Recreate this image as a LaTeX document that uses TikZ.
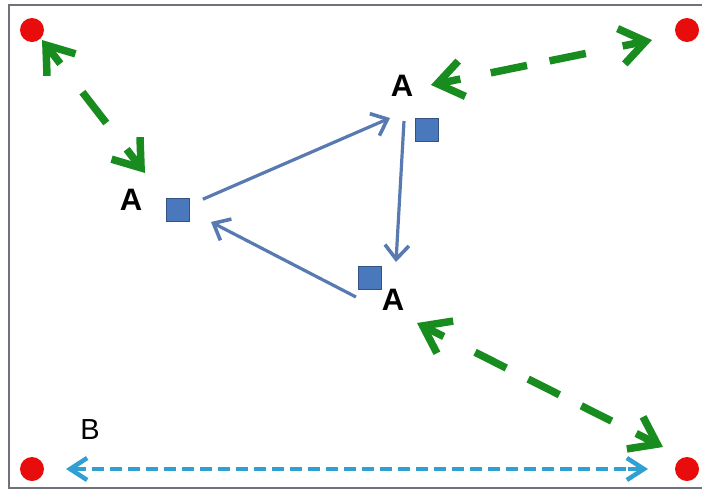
\documentclass[tikz,border=0pt]{standalone}
\usepackage{fontspec}
\setmainfont{Liberation Sans}
\usepackage{tikz}
\usetikzlibrary{arrows.meta, calc, positioning}
\usepackage{xcolor}

\definecolor{dotred}{RGB}{232,12,12}
\definecolor{sqblue}{RGB}{74,120,188}
\definecolor{sqedge}{RGB}{52,82,130}
\definecolor{lineblue}{RGB}{88,122,176}
\definecolor{dashgreen}{RGB}{24,140,30}
\definecolor{dashcyan}{RGB}{48,160,210}
\definecolor{frame}{RGB}{112,114,122}

\begin{document}
\begin{tikzpicture}[x=1pt, y=-1pt,
    dot/.style={circle, fill=dotred, minimum size=24pt, inner sep=0pt},
    sq/.style={rectangle, fill=sqblue, draw=sqedge, line width=1pt, minimum size=23pt, inner sep=0pt},
    lbl/.style={text=black, inner sep=1pt, font=\bfseries\fontsize{31}{34}\selectfont},
    solidarr/.style={draw=lineblue, line width=3.2pt,
      -{Straight Barb[length=14pt, width=24pt, line width=3.6pt]}},
    greenline/.style={draw=dashgreen, line width=7.5pt},
    greentip/.style={draw=dashgreen, line width=7.5pt,
      -{Straight Barb[length=25pt, width=36pt, line width=7.5pt]}},
    cyanline/.style={draw=dashcyan, line width=4pt, dash pattern=on 12pt off 6pt},
    cyantip/.style={draw=dashcyan, line width=4pt,
      -{Straight Barb[length=17pt, width=22pt, line width=4.5pt]}}]
  \useasboundingbox (0,0) rectangle (702,491);
  \clip (0,0) rectangle (702,491);
  \draw[frame, line width=2.4pt] (9,5) rectangle (720,488);

  % corner points
  \node[dot] (tl) at (32,30) {};
  \node[dot] (tr) at (687,30) {};
  \node[dot] (bl) at (32,469) {};
  \node[dot] (br) at (687,469) {};

  % the three A sites
  \node[sq] (sa) at (178,210) {};
  \node[sq] (sb) at (427,130) {};
  \node[sq] (sc) at (370,278) {};
  \node[lbl] (la) at (131,200) {A};
  \node[lbl] (lb) at (402,86) {A};
  \node[lbl] (lc) at (393,300) {A};
  \node[text=black, inner sep=1pt, font=\fontsize{29}{32}\selectfont] (lB) at (90,430) {B};

  % blue moves between the A sites
  \coordinate (p1) at (390,118);
  \coordinate (p2) at (404,121);
  \coordinate (p3) at (396,262);
  \coordinate (p4) at (356,297);
  \coordinate (p5) at (211,222);
  \draw[solidarr, shorten <=14pt] (sa) -- (p1);
  \draw[solidarr] (p2) -- (p3);
  \draw[solidarr] (p4) -- (p5);

  % dashed links, tips drawn solid
  \coordinate (g1a) at (42,40);
  \coordinate (g1b) at (145,173);
  \coordinate (g2a) at (431,85);
  \coordinate (g2b) at (652,40);
  \coordinate (g3a) at (417,323);
  \coordinate (g3b) at (663,447);
  \foreach \a/\b in {g1a/g1b, g2a/g2b, g3a/g3b} {
    \draw[greentip] ($(\a)!30pt!(\b)$) -- (\a);
    \draw[greentip] ($(\b)!30pt!(\a)$) -- (\b);
  }
  \draw[greenline] ($(g1a)!66pt!(g1b)$) -- ($(g1a)!105pt!(g1b)$);
  \draw[greenline, dash pattern=on 37pt off 23pt] ($(g2a)!61pt!(g2b)$) -- ($(g2a)!160pt!(g2b)$);
  \draw[greenline, dash pattern=on 35pt off 24.5pt] ($(g3a)!65pt!(g3b)$) -- ($(g3a)!218pt!(g3b)$);

  \coordinate (c1) at ($(bl)!34pt!(br)$);
  \coordinate (c2) at ($(br)!39pt!(bl)$);
  \draw[cyanline] ($(c1)!26pt!(c2)$) -- ($(c2)!18pt!(c1)$);
  \draw[cyantip] ($(c1)!20pt!(c2)$) -- (c1);
  \draw[cyantip] ($(c2)!20pt!(c1)$) -- (c2);
\end{tikzpicture}
\end{document}
